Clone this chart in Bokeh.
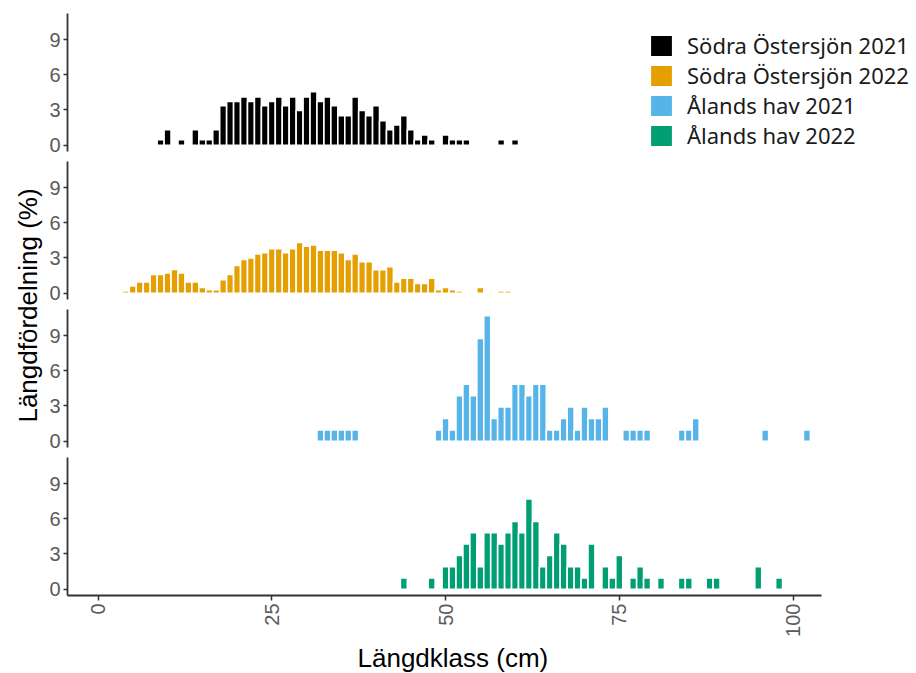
import math
import numpy as np
from bokeh.plotting import figure
from bokeh.layouts import row, column
from bokeh.models import Range1d, FixedTicker, ColumnDataSource, Legend, LegendItem, Label, Title
from bokeh.embed import file_html
from bokeh.resources import INLINE
from bokeh.core.validation import silence
from bokeh.core.validation.warnings import MISSING_RENDERERS

silence(MISSING_RENDERERS, True)

# ---------------- data ----------------
series_names = ["Södra Östersjön 2021", "Södra Östersjön 2022", "Ålands hav 2021", "Ålands hav 2022"]
series_colors = ["#000000", "#E69F00", "#56B4E9", "#009E73"]

len_sos21 = [9, 10, 12, 14, 15, 16, 17, 18, 19, 20, 21, 22, 23, 24, 25, 26, 27, 28, 29, 30,
             31, 32, 33, 34, 35, 36, 37, 38, 39, 40, 41, 42, 43, 44, 45, 46, 47, 48, 50, 51,
             52, 53, 58, 60]
pct_sos21 = [0.47, 1.32, 0.47, 1.32, 0.47, 0.47, 1.32, 3.36, 3.72, 3.72, 4.12, 3.72, 4.12, 3.36, 3.72, 4.12, 3.36, 4.12, 2.96, 4.12,
             4.56, 3.72, 4.12, 3.36, 2.52, 2.52, 4.12, 2.96, 2.52, 3.36, 2.08, 1.32, 1.72, 2.52, 1.32, 0.47, 0.88, 0.47, 0.88, 0.47,
             0.47, 0.47, 0.47, 0.47]

len_sos22 = [4, 5, 6, 7, 8, 9, 10, 11, 12, 13, 14, 15, 16, 17, 18, 19, 20, 21, 22, 23,
             24, 25, 26, 27, 28, 29, 30, 31, 32, 33, 34, 35, 36, 37, 38, 39, 40, 41, 42, 43,
             44, 45, 46, 47, 48, 49, 50, 51, 52, 55, 58, 59]
pct_sos22 = [0.2, 0.63, 0.95, 0.95, 1.6, 1.6, 1.72, 2.03, 1.72, 0.95, 0.95, 0.5, 0.31, 0.31, 1.15, 1.6, 2.36, 2.88, 3.0, 3.34,
             3.46, 3.78, 3.78, 3.46, 3.78, 4.32, 4.0, 4.1, 3.67, 3.67, 3.67, 3.46, 2.88, 3.34, 2.68, 2.68, 2.0, 2.0, 2.25, 0.95,
             1.27, 1.27, 0.84, 0.84, 1.27, 0.3, 0.5, 0.3, 0.2, 0.5, 0.2, 0.2]

len_ah21 = [32, 33, 34, 35, 36, 37, 49, 50, 51, 52, 53, 54, 55, 56, 57, 58, 59, 60, 61, 62,
            63, 64, 65, 66, 67, 68, 69, 70, 71, 72, 73, 76, 77, 78, 79, 84, 85, 86, 96, 102]
pct_ah21 = [0.97, 0.97, 0.97, 0.97, 0.97, 0.97, 0.97, 1.94, 0.97, 3.88, 4.85, 3.88, 8.74, 10.68, 1.94, 2.91, 2.91, 4.85, 4.85, 3.88,
            4.85, 4.85, 0.97, 0.97, 1.94, 2.91, 0.97, 2.91, 1.94, 1.94, 2.91, 0.97, 0.97, 0.97, 0.97, 0.97, 0.97, 1.94, 0.97, 0.97]

len_ah22 = [44, 48, 50, 51, 52, 53, 54, 55, 56, 57, 58, 59, 60, 61, 62, 63, 64, 65, 66, 67,
            68, 69, 70, 71, 73, 74, 75, 77, 78, 79, 81, 84, 85, 88, 89, 95, 98]
pct_ah22 = [0.96, 0.96, 1.92, 1.92, 2.88, 3.85, 4.81, 1.92, 4.81, 4.81, 3.85, 4.81, 5.77, 4.81, 7.69, 5.77, 1.92, 2.88, 4.81, 3.85,
            1.92, 1.92, 0.96, 3.85, 1.92, 0.96, 2.88, 0.96, 1.92, 0.96, 0.96, 0.96, 0.96, 0.96, 0.96, 1.92, 0.96]

y_ticks = [0, 3, 6, 9]
x_ticks = [0, 25, 50, 75, 100]
x_title = "Längdklass (cm)"
y_title = "Längdfördelning (%)"

all_lengths = [len_sos21, len_sos22, len_ah21, len_ah22]
all_pcts = [pct_sos21, pct_sos22, pct_ah21, pct_ah22]

# ---------------- figure ----------------
TICK_FONT = "Liberation Sans"
X_START, X_AXIS_END = -4.4, 104.1      # visible extent of the x axis

LEFT_W = 45
PANEL_W = 916 - LEFT_W
BORDER_L = 22
AXIS_W = 754                             # pixel length of the drawn x axis
px_per_unit = AXIS_W / (X_AXIS_END - X_START)
# the frames reach the right edge (room for the legend); same scale everywhere
x_range = Range1d(X_START, X_START + (PANEL_W - BORDER_L) / px_per_unit)

heights = [156, 148, 148, 221]
tops = [13, 5, 5, 5]
bottoms = [5, 5, 5, 78]

panels = []
bar_renderers = []
for i in range(4):
    last = (i == 3)
    p = figure(width=PANEL_W, height=heights[i], x_range=x_range,
               y_range=Range1d(-0.534, 11.214),
               output_backend="svg", toolbar_location=None,
               x_axis_location="below" if last else None,
               min_border_left=BORDER_L, min_border_right=0,
               min_border_top=tops[i], min_border_bottom=bottoms[i])
    p.outline_line_color = None
    p.grid.grid_line_color = None
    p.background_fill_color = "white"
    p.border_fill_color = "white"

    src = ColumnDataSource(dict(x=all_lengths[i], top=all_pcts[i]))
    r = p.vbar(x="x", top="top", bottom=0, width=1.0, source=src,
               fill_color=series_colors[i], line_color="white", line_width=1.6)
    bar_renderers.append(r)

    ya = p.yaxis[0]
    ya.ticker = FixedTicker(ticks=y_ticks)
    ya.minor_tick_line_color = None
    ya.major_tick_in = 0
    ya.major_tick_out = 4
    ya.major_tick_line_color = "#333333"
    ya.major_tick_line_width = 1.5
    ya.axis_line_color = "#333333"
    ya.axis_line_width = 1.8
    ya.major_label_standoff = 3
    ya.major_label_text_font = TICK_FONT
    ya.major_label_text_font_size = "20px"
    ya.major_label_text_color = "#5a5a5a"

    if last:
        xa = p.xaxis[0]
        xa.bounds = (X_START, X_AXIS_END)
        xa.ticker = FixedTicker(ticks=x_ticks)
        xa.minor_tick_line_color = None
        xa.major_tick_in = 0
        xa.major_tick_out = 5
        xa.major_tick_line_color = "#333333"
        xa.major_tick_line_width = 1.5
        xa.axis_line_color = "#333333"
        xa.axis_line_width = 1.8
        xa.major_label_orientation = math.pi / 2
        xa.major_label_standoff = 3
        xa.major_label_text_font = TICK_FONT
        xa.major_label_text_font_size = "20px"
        xa.major_label_text_color = "#5a5a5a"
        # axis title, centred under the drawn axis (not the wider frame)
        p.add_layout(Title(text=x_title, align="left", offset=290, standoff=2,
                           text_font=TICK_FONT, text_font_size="26px",
                           text_font_style="normal", text_color="#000000"), "below")
    panels.append(p)

# legend inside the first panel; the other series get invisible (NaN) stand-ins
p1 = panels[0]
legend_renderers = [bar_renderers[0]]
for i in range(1, 4):
    dummy = p1.vbar(x="x", top="top", bottom=0, width=1.0,
                    source=ColumnDataSource(dict(x=np.array([np.nan]), top=np.array([np.nan]))),
                    fill_color=series_colors[i], line_color="white", line_width=1.6)
    legend_renderers.append(dummy)
legend = Legend(items=[LegendItem(label=series_names[i], renderers=[legend_renderers[i]]) for i in range(4)],
                location=(580, 1), orientation="vertical",
                glyph_width=28, glyph_height=27, label_standoff=12, spacing=0,
                padding=0, margin=0, border_line_color=None, background_fill_alpha=0,
                label_text_font="Noto Sans", label_text_font_size="22px",
                label_text_color="#1a1a1a")
p1.add_layout(legend)

# left strip with the shared y-axis title
lf = figure(width=LEFT_W, height=673, x_range=Range1d(0, LEFT_W), y_range=Range1d(0, 673),
            output_backend="svg", toolbar_location=None, min_border=0,
            x_axis_location=None, y_axis_location=None)
lf.outline_line_color = None
lf.grid.grid_line_color = None
lf.add_layout(Label(x=27, y=673 - 305, text=y_title, angle=math.pi / 2,
                    text_align="center", text_baseline="middle",
                    text_font=TICK_FONT, text_font_size="26px", text_color="#000000"))

layout = row(lf, column(*panels, spacing=0), spacing=0)

with open("out.html", "w") as f:
    f.write(file_html(layout, INLINE))
